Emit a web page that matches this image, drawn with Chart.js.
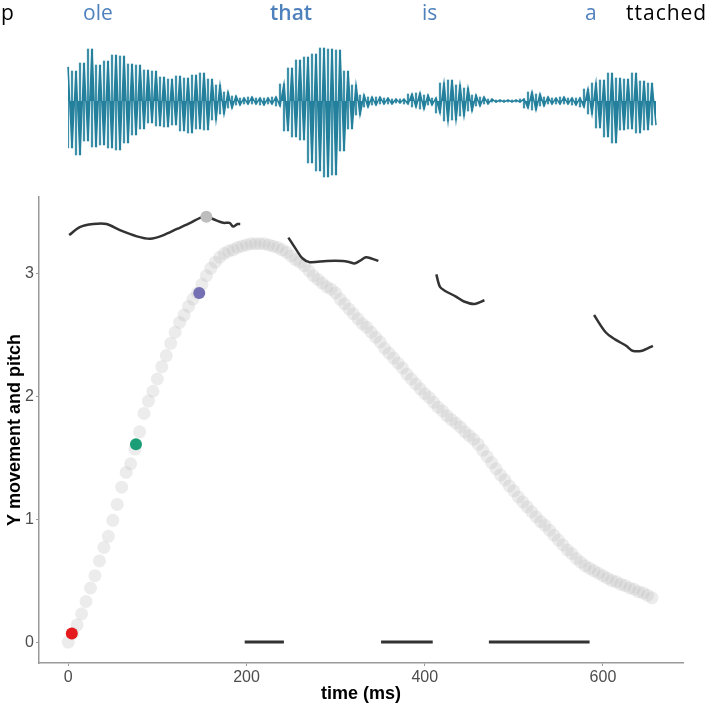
<!DOCTYPE html>
<html>
<head>
<meta charset="utf-8">
<script src="https://cdn.jsdelivr.net/npm/chart.js@4.4.1/dist/chart.umd.min.js"></script>
<style>
  body { margin: 0; background: #fff; }
  #wrap { position: relative; width: 709px; height: 706px; overflow: hidden; }
  #main { position: absolute; left: 0; top: 0; }
  #wave { position: absolute; left: 66px; top: 21px; }
  .word { position: absolute; top: -2px; font-family: "Open Sans", sans-serif; font-size: 21px; line-height: 28px; color: #4f81bd; }
  .black { color: #000; }
</style>
</head>
<body>
<div id="wrap">
  <canvas id="main" width="709" height="706"></canvas>
  <canvas id="wave" width="592" height="160"></canvas>
  <div class="word black" style="left:1px">p</div>
  <div class="word" style="left:83px">ole</div>
  <div class="word" style="left:270px;font-weight:600">that</div>
  <div class="word" style="left:422px">is</div>
  <div class="word" style="left:585px">a</div>
  <div class="word black" style="left:626px;letter-spacing:1px">ttached</div>
</div>
<script>
// waveform envelope, alternating up / down peaks
const waveSamples = [
  34, -47, 30, -54, 38, -40, 52, -46, 36, -44, 40, -47, 46, -49, 45, -42,
  37, -34, 36, -28, 31, -22, 30, -25, 24, -26, 22, -24, 25, -30, 23, -32,
  26, -28, 28, -29, 22, -19, 16, -13, 9, -7, 5, -4, 3, -3, 4, -3,
  3, -4, 3, -3, 4, -5, 17, -30, 33, -36, 41, -39, 44, -62, 47, -70,
  53, -76, 52, -74, 51, -50, 30, -28, 16, -14, 6, -6, 4, -4, 4, -3,
  3, -3, 2, -2, 2, -3, 7, -6, 8, -8, 6, -4, 3, -12, 18, -20,
  21, -19, 16, -15, 13, -10, 6, -5, 4, -3, 2, -1, 1, -1, 1, -1,
  1, -1, 2, -7, 9, -9, 7, -5, 4, -3, 3, -3, 4, -3, 3, -4,
  3, -6, 12, -13, 18, -27, 21, -36, 28, -42, 23, -29, 22, -28, 28, -32,
  20, -29, 18, -24
];

// Y movement (grey circles)
const moveTime = [
  0, 5, 10, 15, 20, 25, 30, 35, 40, 45, 50, 55, 60, 65, 70, 75, 80, 85, 90, 95,
  100, 105, 110, 115, 120, 125, 130, 135, 140, 145, 150, 155, 160, 165, 170, 175, 180, 185, 190, 195,
  200, 205, 210, 215, 220, 225, 230, 235, 240, 245, 250, 255, 260, 265, 270, 275, 280, 285, 290, 295,
  300, 305, 310, 315, 320, 325, 330, 335, 340, 345, 350, 355, 360, 365, 370, 375, 380, 385, 390, 395,
  400, 405, 410, 415, 420, 425, 430, 435, 440, 445, 450, 455, 460, 465, 470, 475, 480, 485, 490, 495,
  500, 505, 510, 515, 520, 525, 530, 535, 540, 545, 550, 555, 560, 565, 570, 575, 580, 585, 590, 595,
  600, 605, 610, 615, 620, 625, 630, 635, 640, 645, 650, 655
];
const moveY = [
  0.00, 0.07, 0.14, 0.23, 0.33, 0.44, 0.54, 0.66, 0.77, 0.86, 0.99, 1.12, 1.26, 1.38, 1.45, 1.57, 1.71, 1.86, 1.96, 2.04,
  2.14, 2.24, 2.33, 2.43, 2.52, 2.60, 2.66, 2.73, 2.79, 2.84, 2.91, 2.98, 3.04, 3.09, 3.13, 3.16, 3.18, 3.19, 3.21, 3.22,
  3.23, 3.24, 3.24, 3.24, 3.24, 3.23, 3.22, 3.21, 3.19, 3.17, 3.14, 3.11, 3.09, 3.06, 3.02, 2.98, 2.95, 2.92, 2.89, 2.87,
  2.84, 2.79, 2.75, 2.71, 2.67, 2.63, 2.59, 2.56, 2.52, 2.48, 2.44, 2.39, 2.35, 2.31, 2.27, 2.23, 2.18, 2.14, 2.10, 2.06,
  2.02, 1.99, 1.95, 1.91, 1.88, 1.84, 1.81, 1.78, 1.75, 1.71, 1.68, 1.65, 1.61, 1.56, 1.51, 1.46, 1.41, 1.36, 1.32, 1.27,
  1.23, 1.18, 1.14, 1.10, 1.06, 1.02, 0.98, 0.95, 0.91, 0.87, 0.83, 0.79, 0.75, 0.72, 0.68, 0.65, 0.62, 0.60, 0.58, 0.56,
  0.54, 0.52, 0.50, 0.49, 0.47, 0.46, 0.44, 0.43, 0.41, 0.40, 0.38, 0.36
];

// highlighted moments
const markTime = [4, 76, 147, 155];
const markY = [0.07, 1.61, 2.84, 3.46];
const markColors = ['#e41a1c', '#1b9e77', '#7570b3', '#bdbdbd'];

// pitch contour pieces
const pitchTime = [
  [1, 13, 28, 43, 58, 77, 92, 107, 122, 137, 148, 155, 166, 174, 181, 185, 190, 193],
  [247, 256, 263, 271, 290, 308, 316, 321, 327, 334, 340, 348],
  [413, 417, 422, 435, 444, 456, 467],
  [590, 603, 614, 626, 633, 644, 656]
];
const pitchY = [
  [3.31, 3.375, 3.40, 3.40, 3.35, 3.30, 3.28, 3.31, 3.36, 3.41, 3.45, 3.46, 3.43, 3.41, 3.41, 3.38, 3.40, 3.40],
  [3.29, 3.19, 3.12, 3.09, 3.10, 3.10, 3.09, 3.08, 3.10, 3.13, 3.12, 3.10],
  [2.99, 2.89, 2.86, 2.81, 2.77, 2.75, 2.78],
  [2.66, 2.52, 2.46, 2.41, 2.37, 2.37, 2.41]
];

// intervals drawn at zero
const spanStart = [198, 351, 472];
const spanEnd = [242, 409, 585];

const xTicks = [0, 200, 400, 600];
const yTicks = [0, 1, 2, 3];


// vertical strokes spanning each pair of neighbouring peaks
const waveStrokes = waveSamples.map((v, i) => {
    const n = i < waveSamples.length - 1 ? waveSamples[i + 1] : v;
    return [Math.min(v, n), Math.max(v, n)];
});

new Chart(document.getElementById('wave'), {
    type: 'bar',
    data: {
        labels: waveSamples.map((v, i) => i),
        datasets: [
            {
                type: 'line',
                data: waveSamples,
                borderColor: '#24809c',
                backgroundColor: '#24809c',
                fill: 'origin',
                borderWidth: 1.5,
                pointRadius: 0,
                tension: 0,
                clip: false
            },
            {
                data: waveStrokes,
                backgroundColor: '#3f90a9',
                barThickness: 1.6,
                borderWidth: 0
            }
        ]
    },
    options: {
        responsive: false,
        animation: false,
        events: [],
        layout: { padding: { left: 2, right: 2 } },
        plugins: { legend: { display: false }, tooltip: { enabled: false } },
        scales: {
            x: { display: false, offset: false },
            y: { display: false, min: -80, max: 80 }
        }
    }
});


const datasets = [];

datasets.push({
    label: 'marks',
    data: markTime.map((t, i) => ({ x: t, y: markY[i] })),
    pointRadius: 6,
    pointBackgroundColor: markColors,
    pointBorderWidth: 0,
    order: 0
});

pitchTime.forEach((ts, k) => {
    datasets.push({
        label: 'pitch' + k,
        data: ts.map((t, i) => ({ x: t, y: pitchY[k][i] })),
        showLine: true,
        borderColor: '#333333',
        borderWidth: 2.5,
        pointRadius: 0,
        tension: 0.3,
        order: 1
    });
});

spanStart.forEach((s, k) => {
    datasets.push({
        label: 'span' + k,
        data: [{ x: s, y: 0 }, { x: spanEnd[k], y: 0 }],
        showLine: true,
        borderColor: '#333333',
        borderWidth: 3,
        pointRadius: 0,
        order: 1
    });
});

datasets.push({
    label: 'movement',
    data: moveTime.map((t, i) => ({ x: t, y: moveY[i] })),
    pointRadius: 6.5,
    pointBackgroundColor: 'rgba(185,185,185,0.28)',
    pointBorderWidth: 0,
    order: 3
});

new Chart(document.getElementById('main'), {
    type: 'scatter',
    data: { datasets: datasets },
    options: {
        responsive: false,
        animation: false,
        events: [],
        layout: { padding: { top: 197, right: 26, left: 0, bottom: 0 } },
        plugins: { legend: { display: false }, tooltip: { enabled: false } },
        scales: {
            x: {
                type: 'linear',
                min: -32.8,
                max: 689.8,
                afterBuildTicks: s => { s.ticks = xTicks.map(v => ({ value: v })); },
                afterFit: s => { s.height = 43; },
                grid: { drawOnChartArea: false, tickLength: 3, color: '#999', lineWidth: 1 },
                border: { color: '#999', width: 1.5 },
                ticks: { color: '#4d4d4d', padding: 2, font: { family: 'Liberation Sans', size: 16 } },
                title: {
                    display: true,
                    text: 'time (ms)',
                    color: '#000',
                    padding: { top: 0, bottom: 1 },
                    font: { family: 'Liberation Sans', size: 18, weight: 'bold' }
                }
            },
            y: {
                type: 'linear',
                min: -0.17,
                max: 3.62,
                afterBuildTicks: s => { s.ticks = yTicks.map(v => ({ value: v })); },
                afterFit: s => { s.width = 39; },
                grid: { drawOnChartArea: false, tickLength: 3, color: '#999', lineWidth: 1 },
                border: { color: '#999', width: 1.5 },
                ticks: { color: '#4d4d4d', padding: 2, font: { family: 'Liberation Sans', size: 16 } },
                title: {
                    display: true,
                    text: 'Y movement and pitch',
                    color: '#000',
                    padding: { top: 4, bottom: 0 },
                    font: { family: 'Liberation Sans', size: 18, weight: 'bold' }
                }
            }
        }
    }
});
</script>
</body>
</html>
